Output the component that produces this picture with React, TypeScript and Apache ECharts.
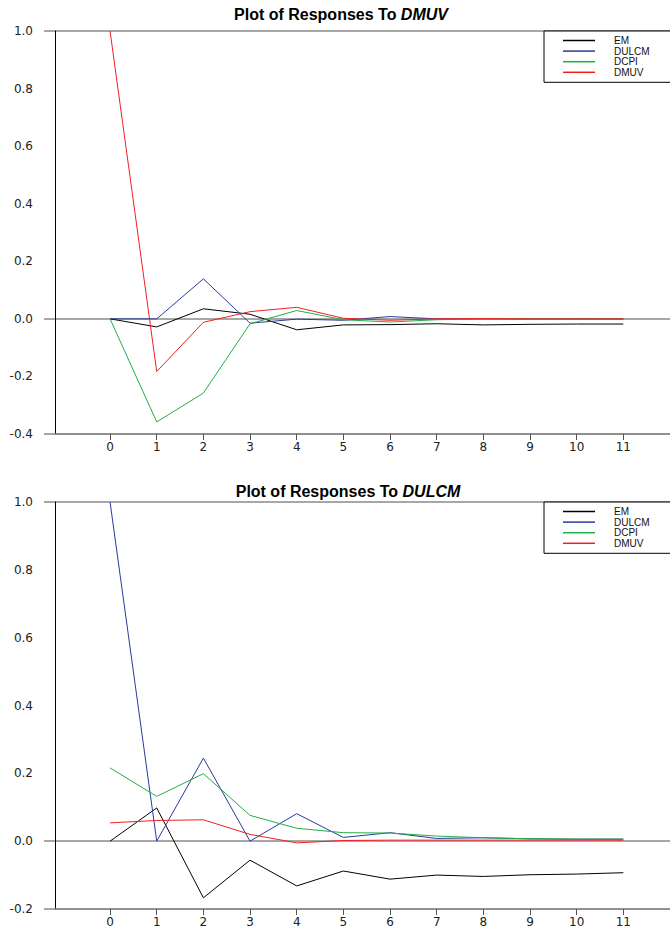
import React, { useEffect, useRef } from "react";
import * as echarts from "echarts";

const periods = [0, 1, 2, 3, 4, 5, 6, 7, 8, 9, 10, 11];
const seriesNames = ["EM", "DULCM", "DCPI", "DMUV"];
const seriesColors = ["#000000", "#2b3a9e", "#1fae45", "#f02020"];

// Responses to DMUV
const dmuvEM = [0, -0.028, 0.035, 0.016, -0.038, -0.021, -0.02, -0.017, -0.021, -0.019, -0.018, -0.018];
const dmuvDULCM = [0, 0, 0.139, -0.015, -0.001, -0.005, 0.008, 0, 0, 0, 0, 0];
const dmuvDCPI = [0, -0.358, -0.258, -0.017, 0.029, -0.003, -0.011, -0.003, 0, 0, 0, 0];
const dmuvDMUV = [1.0, -0.183, -0.012, 0.025, 0.04, 0.002, -0.005, 0, 0.001, 0, 0, 0];

// Responses to DULCM
const dulcmEM = [0, 0.098, -0.167, -0.056, -0.132, -0.088, -0.112, -0.1, -0.104, -0.099, -0.097, -0.093];
const dulcmDULCM = [1.0, 0, 0.245, 0, 0.081, 0.011, 0.025, 0.008, 0.01, 0.007, 0.006, 0.006];
const dulcmDCPI = [0.216, 0.132, 0.199, 0.076, 0.038, 0.025, 0.024, 0.015, 0.01, 0.007, 0.006, 0.006];
const dulcmDMUV = [0.054, 0.061, 0.063, 0.02, -0.005, 0.002, 0.003, 0.003, 0.003, 0.003, 0.003, 0.003];

const topTicks = [-0.4, 0, 1.0];
const bottomTicks = [-0.2, 0, 1.0];

const FONT = "Liberation Sans, Arial, sans-serif";
const WIDE = "DejaVu Sans, sans-serif";

export default function App() {
  const ref = useRef<HTMLDivElement>(null);
  useEffect(() => {
    if (!ref.current) return;
    const chart = echarts.init(ref.current, null, { renderer: "svg" });
    const toPairs = (arr: number[]) => arr.map((v, i) => [periods[i], v]);
    const groups = [
      [dmuvEM, dmuvDULCM, dmuvDCPI, dmuvDMUV],
      [dulcmEM, dulcmDULCM, dulcmDCPI, dulcmDMUV],
    ];
    const series: any[] = [];
    groups.forEach((g, gi) => {
      g.forEach((arr, si) => {
        series.push({
          name: seriesNames[si],
          type: "line",
          xAxisIndex: gi,
          yAxisIndex: gi,
          data: toPairs(arr),
          showSymbol: false,
          symbol: "none",
          lineStyle: { color: seriesColors[si], width: 1 },
          itemStyle: { color: seriesColors[si] },
          z: 3,
        });
      });
    });
    const makeX = (gi: number) => ({
      type: "value",
      gridIndex: gi,
      min: -1.18,
      max: 12.0,
      axisLine: { show: true, onZero: false, lineStyle: { color: "#8a8a8a", width: 1.5 } },
      axisTick: {
        show: true,
        customValues: periods,
        length: 6,
        lineStyle: { color: "#555", width: 1 },
      },
      axisLabel: {
        show: true,
        customValues: periods,
        margin: 7,
        color: "#222",
        fontSize: 12,
        fontFamily: WIDE,
        formatter: (v: number) => String(Math.round(v)),
      },
      splitLine: { show: false },
    });
    const makeY = (gi: number, min: number, ticks: number[]) => ({
      type: "value",
      gridIndex: gi,
      min,
      max: 1.0,
      interval: 0.2,
      axisLine: { show: true, onZero: false, lineStyle: { color: "#000", width: 1 } },
      axisTick: {
        show: true,
        customValues: ticks,
        length: 11,
        lineStyle: { color: "#8a8a8a", width: 1.5 },
      },
      axisLabel: {
        show: true,
        margin: 22,
        color: "#222",
        fontSize: 12,
        fontFamily: WIDE,
        formatter: (v: number) => v.toFixed(1),
      },
      splitLine: { show: true, lineStyle: { color: "#8a8a8a", width: 1.5 } },
    });
    const legendBase = {
      orient: "vertical",
      left: 544,
      icon: "rect",
      itemWidth: 32,
      itemHeight: 1.5,
      itemGap: 0.6,
      padding: [4.5, 120, 5, 19],
      borderColor: "#000",
      borderWidth: 1,
      backgroundColor: "#fff",
      textStyle: { fontSize: 10, lineHeight: 9, fontFamily: FONT, color: "#111", padding: [0, 0, 0, 14] },
      data: seriesNames,
    };
    const titleRich = (name: string) => ({
      text: `{a|Plot of Responses To }{b|${name}}`,
      textStyle: {
        rich: {
          a: { fontSize: 16, fontWeight: "bold", fontFamily: FONT, color: "#000" },
          b: { fontSize: 16, fontWeight: "bold", fontStyle: "italic", fontFamily: FONT, color: "#000" },
        },
      },
    });
    chart.setOption({
      animation: false,
      backgroundColor: "#fff",
      title: [
        { ...titleRich("DMUV"), left: 336, top: 1, textAlign: "center" },
        { ...titleRich("DULCM"), left: 343, top: 478, textAlign: "center" },
      ],
      legend: [
        { ...legendBase, top: 31 },
        { ...legendBase, top: 502 },
      ],
      grid: [
        { left: 55, top: 31, width: 615, height: 403 },
        { left: 55, top: 502, width: 615, height: 408 },
      ],
      xAxis: [makeX(0), makeX(1)],
      yAxis: [makeY(0, -0.4, topTicks), makeY(1, -0.2, bottomTicks)],
      series,
    });
    return () => chart.dispose();
  }, []);
  return (
    <div
      ref={ref}
      style={{ position: "absolute", left: 0, top: 0, width: 670, height: 928 }}
    />
  );
}
